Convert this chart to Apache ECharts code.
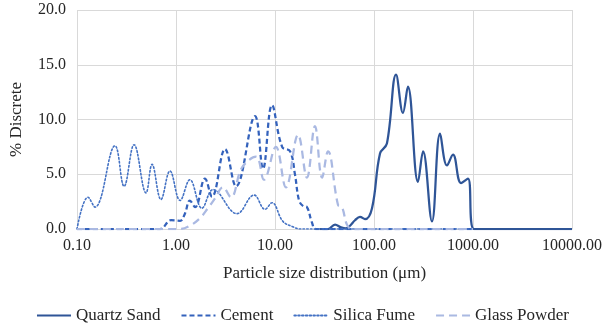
<!DOCTYPE html>
<html>
<head>
<meta charset="utf-8">
<script src="https://cdn.jsdelivr.net/npm/echarts@6/dist/echarts.min.js"></script>
<style>html,body{margin:0;padding:0;background:#fff}#c{width:605px;height:329px}</style>
</head>
<body>
<div id="c"></div>
<script>
const seriesNames = ['Quartz Sand', 'Cement', 'Silica Fume', 'Glass Powder'];
const xTicks = [0.1, 1, 10, 100, 1000, 10000];
const yTicks = [0, 5, 10, 15, 20];

const quartzX = [28.5, 34.3, 40.4, 46.4, 52.1, 57.3, 64.3, 72.2, 81.1, 95.5, 115, 135, 167, 196, 220, 278, 313, 385, 465, 546, 628, 757, 889, 1023, 10000];
const quartzY = [0, 0, 0.4, 0.15, 0.05, 0.3, 0.8, 1.1, 0.9, 1.9, 6.9, 7.8, 14.1, 10.6, 13.0, 4.3, 7.1, 0.7, 8.7, 5.8, 6.8, 4.2, 4.6, 0, 0];

const cementX = [0.1, 0.689, 0.889, 1.10, 1.23, 1.38, 1.56, 1.96, 2.31, 3.13, 4.04, 6.28, 7.57, 9.33, 11.8, 14.2, 15.9, 17.5, 19.2, 21.0, 23.6, 25.9, 1000];
const cementY = [0, 0, 0.8, 0.75, 1.4, 2.6, 2.0, 4.6, 2.95, 7.3, 3.9, 10.3, 5.5, 11.3, 7.5, 7.1, 5.0, 2.6, 2.1, 2.0, 0.6, 0, 0];

const silicaX = [0.1, 0.129, 0.152, 0.242, 0.299, 0.377, 0.498, 0.573, 0.705, 0.869, 1.10, 1.38, 1.83, 2.37, 4.13, 6.14, 7.93, 9.33, 12.0, 15.2, 17.9, 1000];
const silicaY = [0, 2.9, 2.0, 7.6, 3.9, 7.7, 3.3, 5.9, 2.7, 5.3, 2.6, 4.5, 1.9, 3.6, 1.4, 3.1, 1.8, 2.4, 0.7, 0.2, 0, 0];

const glassX = [0.1, 1.10, 1.38, 1.75, 2.10, 2.48, 2.98, 3.59, 4.64, 6.43, 7.74, 10.2, 12.9, 17.1, 21.0, 25.3, 29.9, 34.3, 43.3, 47.5, 53.3, 60.0, 1000];
const glassY = [0, 0, 0.3, 1.0, 1.9, 2.8, 3.8, 2.9, 5.6, 6.6, 4.5, 7.5, 3.8, 8.6, 4.7, 9.4, 4.7, 7.1, 2.2, 2.0, 0.4, 0, 0];

function zip(xs, ys) { return xs.map((x, i) => [x, ys[i]]); }

const FONT = '"Liberation Serif", "Times New Roman", serif';
const chart = echarts.init(document.getElementById('c'), null, {renderer: 'canvas'});
chart.setOption({
  animation: false,
  textStyle: {fontFamily: FONT},
  grid: {left: 77, right: 33, top: 10, bottom: 100},
  xAxis: {
    type: 'log', logBase: 10, min: xTicks[0], max: xTicks[xTicks.length - 1],
    name: 'Particle size distribution (μm)', nameLocation: 'middle', nameGap: 36,
    nameTextStyle: {fontFamily: FONT, fontSize: 17, color: '#262626'},
    axisLine: {show: true, lineStyle: {color: '#d9d9d9', width: 1}},
    axisTick: {show: false},
    minorTick: {show: false},
    splitLine: {show: true, lineStyle: {color: '#d9d9d9', width: 1}},
    axisLabel: {fontFamily: FONT, fontSize: 16, color: '#262626', margin: 9,
      formatter: v => Number(v).toFixed(2)}
  },
  yAxis: {
    type: 'value', min: yTicks[0], max: yTicks[yTicks.length - 1], interval: 5,
    name: '% Discrete', nameLocation: 'middle', nameGap: 52,
    nameTextStyle: {fontFamily: FONT, fontSize: 17, color: '#262626'},
    axisLine: {show: false}, axisTick: {show: false},
    splitLine: {lineStyle: {color: '#d9d9d9', width: 1}},
    axisLabel: {fontFamily: FONT, fontSize: 16, color: '#262626', margin: 11,
      formatter: v => Number(v).toFixed(1)}
  },
  legend: {
    bottom: 0, left: 'center', itemWidth: 34, itemHeight: 12, itemGap: 20,
    itemStyle: {opacity: 0},
    textStyle: {fontFamily: FONT, fontSize: 17, color: '#262626'},
    data: seriesNames
  },
  series: [
    {name: seriesNames[0], type: 'line', smooth: 0.4, symbol: 'none', z: 2,
     lineStyle: {color: '#2F5597', width: 2.25, type: 'solid'}, itemStyle: {color: '#2F5597'},
     data: zip(quartzX, quartzY)},
    {name: seriesNames[1], type: 'line', smooth: 0.4, symbol: 'none', z: 3,
     lineStyle: {color: '#3462BC', width: 2.25, type: [5, 3]}, itemStyle: {color: '#3462BC'},
     data: zip(cementX, cementY)},
    {name: seriesNames[2], type: 'line', smooth: 0.4, symbol: 'none', z: 4,
     lineStyle: {color: '#4472C4', width: 1.6, type: [1.6, 2.2], cap: 'round'}, itemStyle: {color: '#4472C4'},
     data: zip(silicaX, silicaY)},
    {name: seriesNames[3], type: 'line', smooth: 0.4, symbol: 'none', z: 5,
     lineStyle: {color: '#AAB9E2', width: 2.25, type: [8, 5]}, itemStyle: {color: '#AAB9E2'},
     data: zip(glassX, glassY)}
  ]
});
</script>
</body>
</html>
